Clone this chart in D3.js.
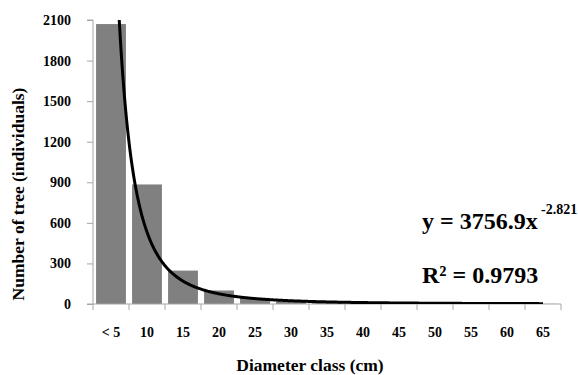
<!DOCTYPE html>
<html><head><meta charset="utf-8">
<script src="https://cdn.jsdelivr.net/npm/d3@7"></script>
<style>body{margin:0;background:#fff}svg{display:block}</style>
</head><body>
<svg id="c" width="578" height="375"></svg>
<script>
const categories = ["< 5","10","15","20","25","30","35","40","45","50","55","60","65"];
const counts = [2070, 884, 247, 100, 45, 20, 10, 7, 5, 3, 3, 2, 1];
const yTicks = [0, 300, 600, 900, 1200, 1500, 1800, 2100];
const trendA = 3756.9, trendB = -2.821;
const eqText = "y = 3756.9x", eqExp = "-2.821", r2Text = "R² = 0.9793";

const svg = d3.select("#c");
const L = 93, R = 561, T = 20, B = 304;
const font = "'Liberation Serif','Times New Roman',serif";
const axisCol = "#a6a6a6";

const x = d3.scaleBand().domain(categories).range([L, R]).paddingInner(0.17).paddingOuter(0.085);
const y = d3.scaleLinear().domain([0, 2100]).range([B, T]);
const xLin = d3.scaleLinear().domain([0.5, categories.length + 0.5]).range([L, R]);

// bars
svg.append("g").selectAll("rect").data(counts).join("rect")
  .attr("x", (d,i) => x(categories[i]))
  .attr("width", x.bandwidth())
  .attr("y", d => y(d))
  .attr("height", d => B - y(d))
  .attr("fill", "#808080");

// y axis
const ya = svg.append("g").attr("transform", `translate(${L},0)`)
  .call(d3.axisLeft(y).tickValues(yTicks).tickFormat(d3.format("d")).tickSize(6).tickPadding(16));
ya.select(".domain").attr("stroke", axisCol).attr("d", `M-6,${T}H0V${B}H-6`);
ya.selectAll(".tick line").attr("stroke", axisCol);
ya.selectAll(".tick text").attr("font-family", font).attr("font-weight", "bold")
  .attr("font-size", 14).attr("fill", "#000");

// x axis
const xa = svg.append("g").attr("transform", `translate(0,${B})`);
xa.append("line").attr("x1", L).attr("x2", R).attr("stroke", axisCol);
const bounds = d3.range(categories.length + 1).map(i => xLin(i + 0.5));
xa.selectAll("line.tk").data(bounds).join("line").attr("class","tk")
  .attr("x1", d => d).attr("x2", d => d).attr("y1", 0).attr("y2", 6).attr("stroke", axisCol);
xa.selectAll("text").data(categories).join("text")
  .attr("x", d => x(d) + x.bandwidth()/2).attr("y", 33)
  .attr("text-anchor", "middle").attr("font-family", font).attr("font-weight", "bold")
  .attr("font-size", 14).text(d => d);

// trendline
svg.append("defs").append("clipPath").attr("id","clip")
  .append("rect").attr("x", L).attr("y", T).attr("width", R - L).attr("height", B - T);
const pts = d3.range(1, categories.length + 0.001, 0.02).map(v => [v, trendA * Math.pow(v, trendB)]);
svg.append("path").datum(pts).attr("clip-path", "url(#clip)")
  .attr("d", d3.line().x(d => xLin(d[0])).y(d => y(d[1])).curve(d3.curveLinear))
  .attr("fill", "none").attr("stroke", "#000").attr("stroke-width", 3);

// equation
svg.append("text").attr("x", 422).attr("y", 229)
  .attr("font-family", font).attr("font-weight", "bold").attr("font-size", 24).text(eqText);
svg.append("text").attr("x", 541).attr("y", 214)
  .attr("font-family", font).attr("font-weight", "bold").attr("font-size", 14).text(eqExp);
svg.append("text").attr("x", 422).attr("y", 283)
  .attr("font-family", font).attr("font-weight", "bold").attr("font-size", 24).text(r2Text);

// axis titles
svg.append("text").attr("x", 310).attr("y", 371).attr("text-anchor", "middle")
  .attr("font-family", font).attr("font-weight", "bold").attr("font-size", 17.5).text("Diameter class (cm)");
svg.append("text").attr("transform", "translate(24,194) rotate(-90)").attr("text-anchor", "middle")
  .attr("font-family", font).attr("font-weight", "bold").attr("font-size", 17.5).text("Number of tree (individuals)");
</script>
</body></html>
